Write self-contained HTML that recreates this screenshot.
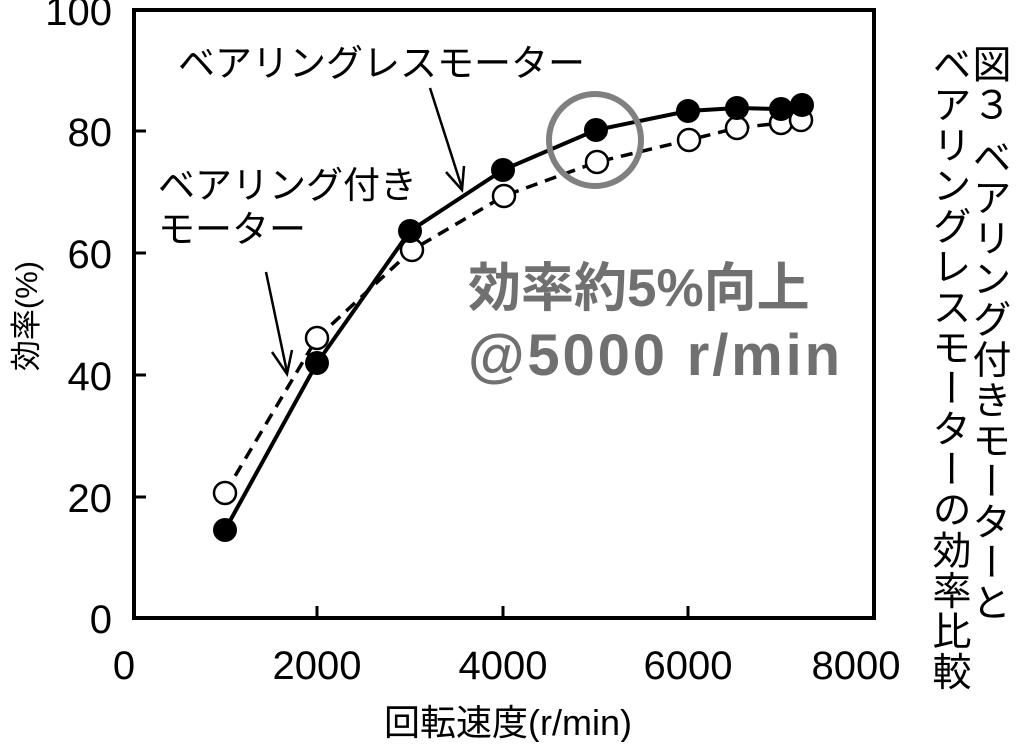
<!DOCTYPE html>
<html><head><meta charset="utf-8"><style>
body{margin:0;background:#fff;width:1018px;height:742px;overflow:hidden;position:relative}
svg text{font-family:"Liberation Sans","Noto Sans CJK JP",sans-serif}
.v{position:absolute;top:44px;width:40px;height:700px;writing-mode:vertical-rl;font-family:"Liberation Sans","Noto Sans CJK JP",sans-serif;font-size:39px;line-height:40px;letter-spacing:1.5px;white-space:nowrap}
</style></head><body>
<svg width="1018" height="742" viewBox="0 0 1018 742" style="position:absolute;left:0;top:0">
<rect x="134" y="10" width="740" height="608" fill="none" stroke="#000" stroke-width="4"/>
<g stroke="#000" stroke-width="3">
<line x1="317" y1="618" x2="317" y2="606"/><line x1="503" y1="618" x2="503" y2="606"/><line x1="688" y1="618" x2="688" y2="606"/>
<line x1="134" y1="131" x2="146" y2="131"/><line x1="134" y1="253" x2="146" y2="253"/><line x1="134" y1="375" x2="146" y2="375"/><line x1="134" y1="497" x2="146" y2="497"/>
</g>
<g font-size="40" text-anchor="end">
<text x="112" y="25">100</text><text x="112" y="146">80</text><text x="112" y="268">60</text><text x="112" y="390">40</text><text x="112" y="512">20</text><text x="112" y="633">0</text>
</g>
<g font-size="40" text-anchor="middle">
<text x="124" y="679">0</text><text x="317" y="679">2000</text><text x="503" y="679">4000</text><text x="688" y="679">6000</text><text x="856" y="679">8000</text>
</g>
<text x="508" y="735" font-size="36" text-anchor="middle">回転速度(r/min)</text>
<text transform="translate(37,316) rotate(-90)" font-size="31" text-anchor="middle">効率(%)</text>
<polyline points="225,493 317,338 412,250 504,196 597,162 689,140 737,128 781,123 801,120" fill="none" stroke="#000" stroke-width="3.5" stroke-dasharray="12,8"/>
<polyline points="225,530 317,363 410,231 503,170 596,130 688,111 737,108 781,109 802,105" fill="none" stroke="#000" stroke-width="4"/>
<g fill="#fff" stroke="#000" stroke-width="2.5">
<circle cx="225" cy="493" r="11"/><circle cx="317" cy="338" r="11"/><circle cx="412" cy="250" r="11"/><circle cx="504" cy="196" r="11"/><circle cx="597" cy="162" r="11"/><circle cx="689" cy="140" r="11"/><circle cx="737" cy="128" r="11"/><circle cx="781" cy="123" r="11"/><circle cx="801" cy="120" r="11"/>
</g>
<g fill="#000">
<circle cx="225" cy="530" r="12"/><circle cx="317" cy="363" r="12"/><circle cx="410" cy="231" r="12"/><circle cx="503" cy="170" r="12"/><circle cx="596" cy="130" r="12"/><circle cx="688" cy="111" r="12"/><circle cx="737" cy="108" r="12"/><circle cx="781" cy="109" r="12"/><circle cx="802" cy="105" r="12"/>
</g>
<circle cx="595" cy="140" r="46" fill="none" stroke="#808080" stroke-width="6"/>
<text x="178" y="76" font-size="37">ベアリングレスモーター</text>
<text x="158" y="198" font-size="37">ベアリング付き</text>
<text x="158" y="242" font-size="37">モーター</text>
<g stroke="#000" stroke-width="2.5" fill="none">
<line x1="430" y1="88" x2="462" y2="188"/><polyline points="446,172 462,190 464,166"/>
<line x1="266" y1="272" x2="287" y2="372"/><polyline points="272,352 287,374 292,350"/>
</g>
<text x="468" y="306" font-size="53" fill="#707070" font-weight="bold">効率約5%向上</text>
<text x="468" y="375" font-size="58" fill="#707070" font-weight="bold" textLength="372">@5000 r/min</text>
</svg>
<div class="v" style="left:968px">図３ ベアリング付きモーターと</div>
<div class="v" style="left:928px">ベアリングレスモーターの効率比較</div>
</body></html>
